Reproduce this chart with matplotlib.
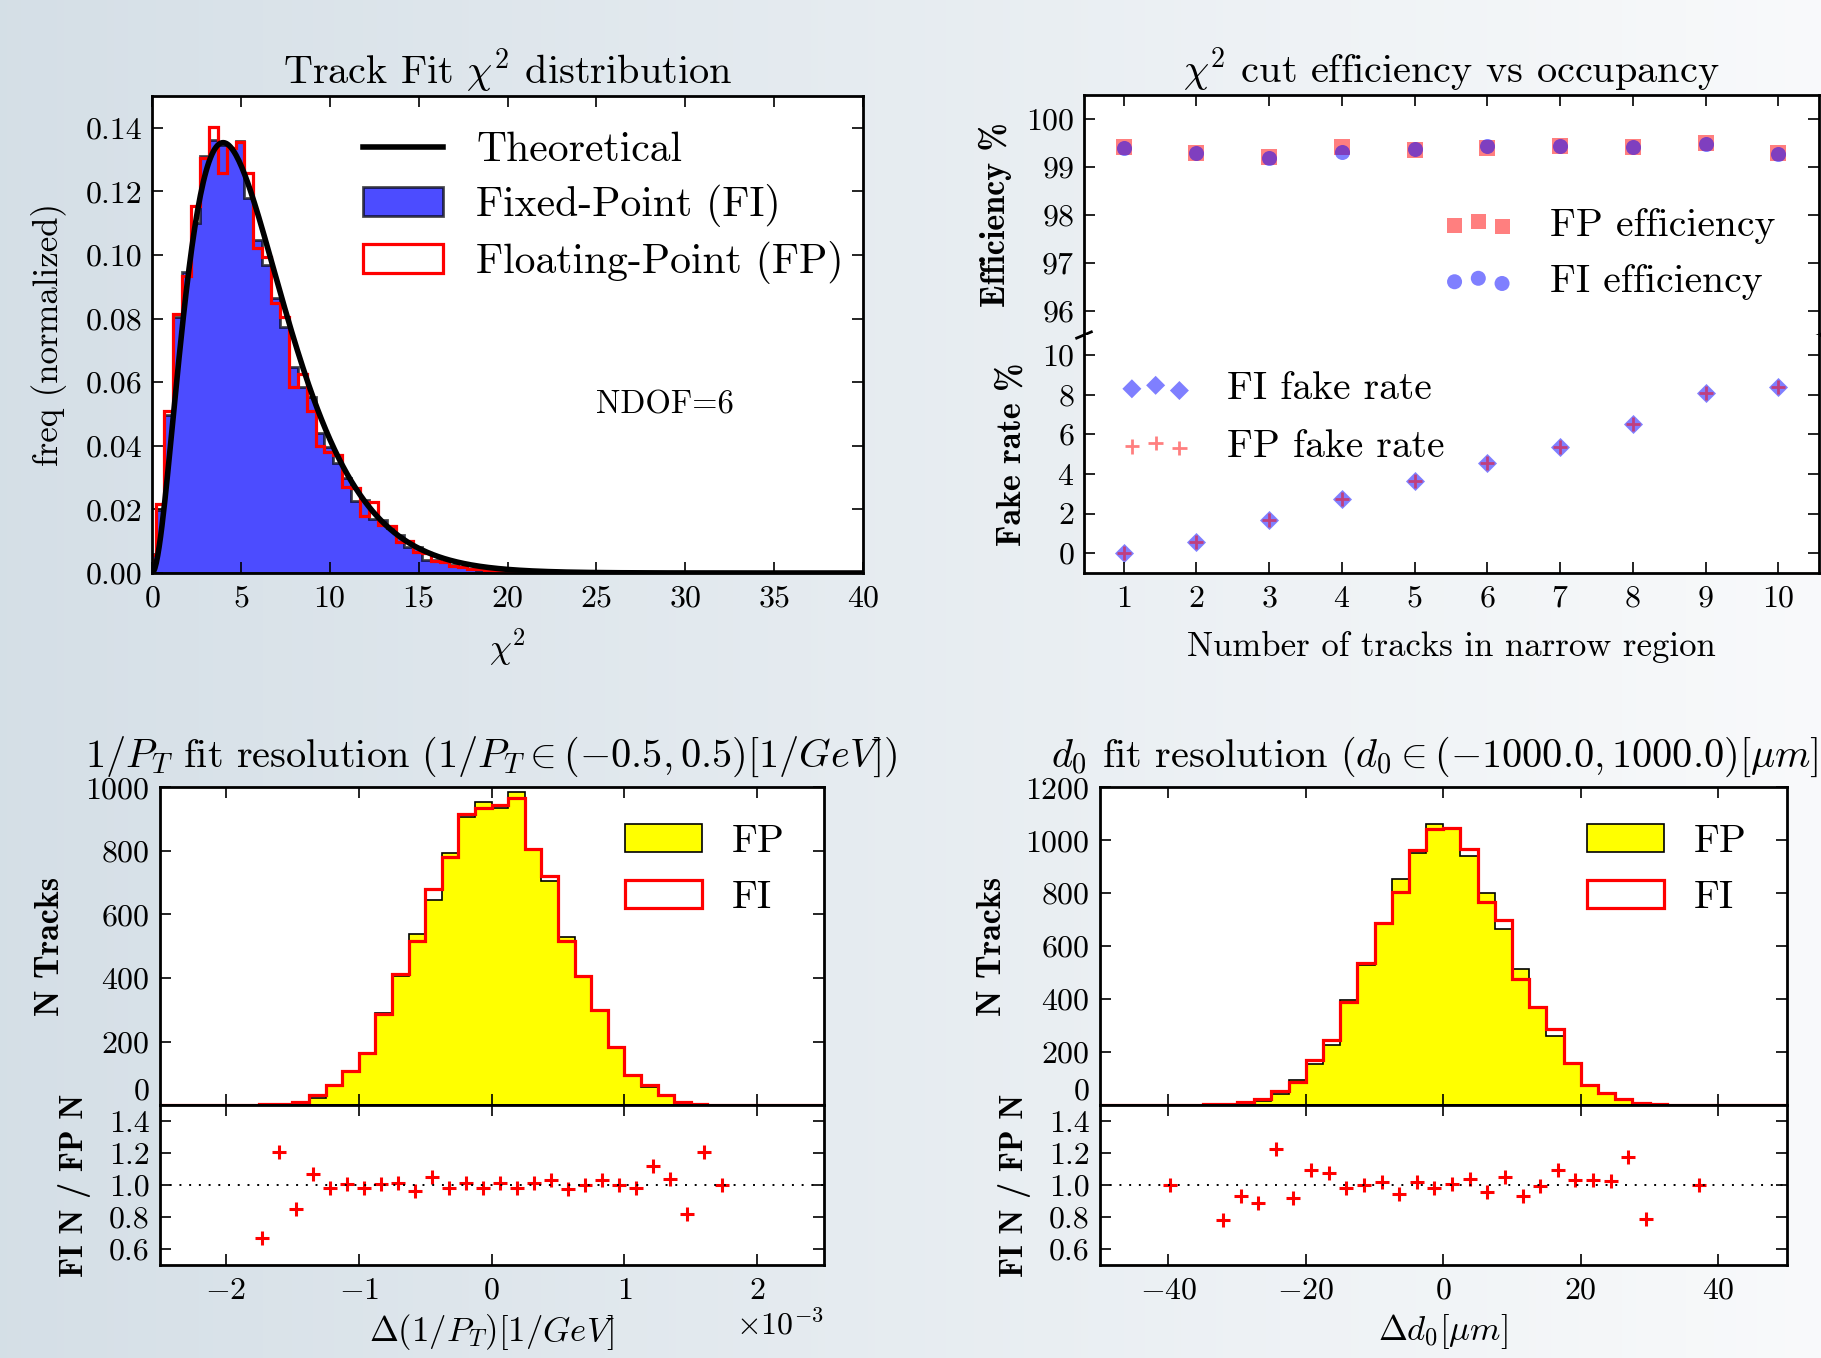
import numpy as np
import matplotlib
matplotlib.use('Agg')
import matplotlib.pyplot as plt
from matplotlib.patches import Patch
from matplotlib.lines import Line2D

plt.rcParams['font.family'] = 'cmr10'
plt.rcParams['mathtext.fontset'] = 'cm'
plt.rcParams['axes.formatter.use_mathtext'] = True

# ---------------- data ----------------
# Panel 1: chi2 histograms (normalized), bins of width 0.5 starting at 0.2
chi_edges = [0.0] + [0.2 + 0.5 * k for k in range(81)]
chi_fp = [0.0058,
          0.0218, 0.0511, 0.0815, 0.0935, 0.1155, 0.1305, 0.1402, 0.1258, 0.1335, 0.1355,
          0.1258, 0.1023, 0.0995, 0.0848, 0.0806, 0.0584, 0.0625, 0.0508, 0.0400, 0.0380,
          0.0371, 0.0272, 0.0268, 0.0180, 0.0222, 0.0150, 0.0148, 0.0098, 0.0100, 0.0065,
          0.0063, 0.0038, 0.0036, 0.0022, 0.0020, 0.0012, 0.0012, 0.0008, 0.0006, 0.0004,
          0.0003, 0.0003, 0.0002, 0.0002, 0.0001, 0.0001, 0.0001, 0.0001, 0.0, 0.0,
          0.0, 0.0, 0.0, 0.0, 0.0, 0.0, 0.0, 0.0, 0.0, 0.0,
          0.0, 0.0, 0.0, 0.0, 0.0, 0.0, 0.0, 0.0, 0.0, 0.0,
          0.0, 0.0, 0.0, 0.0, 0.0, 0.0, 0.0, 0.0, 0.0, 0.0]
chi_fi = [0.0060,
          0.0199, 0.0497, 0.0806, 0.0946, 0.1100, 0.1311, 0.1363, 0.1345, 0.1335, 0.1360,
          0.1178, 0.1047, 0.0969, 0.0864, 0.0775, 0.0649, 0.0586, 0.0555, 0.0440, 0.0395,
          0.0345, 0.0300, 0.0225, 0.0230, 0.0170, 0.0168, 0.0140, 0.0120, 0.0083, 0.0082,
          0.0041, 0.0040, 0.0035, 0.0025, 0.0018, 0.0014, 0.0010, 0.0008, 0.0006, 0.0005,
          0.0003, 0.0002, 0.0002, 0.0001, 0.0001, 0.0, 0.0, 0.0, 0.0, 0.0,
          0.0, 0.0, 0.0, 0.0, 0.0, 0.0, 0.0, 0.0, 0.0, 0.0,
          0.0, 0.0, 0.0, 0.0, 0.0, 0.0, 0.0, 0.0, 0.0, 0.0,
          0.0, 0.0, 0.0, 0.0, 0.0, 0.0, 0.0, 0.0, 0.0, 0.0]
NDOF = 6

# Panel 2: efficiency / fake rate vs number of tracks
n_tracks = [1, 2, 3, 4, 5, 6, 7, 8, 9, 10]
fp_eff = [99.42, 99.29, 99.20, 99.41, 99.36, 99.40, 99.44, 99.42, 99.49, 99.29]
fi_eff = [99.40, 99.29, 99.19, 99.31, 99.38, 99.43, 99.43, 99.41, 99.48, 99.28]
fi_fake = [0.00, 0.58, 1.67, 2.75, 3.62, 4.53, 5.33, 6.53, 8.07, 8.37]
fp_fake = [0.00, 0.58, 1.67, 2.75, 3.62, 4.53, 5.33, 6.53, 8.07, 8.37]

# Panel 3: 1/PT residuals (x in 1e-3 /GeV), bin width 0.125e-3
pt_edges = [(-2.5 + 0.125 * k) * 1e-3 for k in range(41)]
pt_fp = [0, 0, 0, 0, 1, 2, 4, 5, 8, 24, 60, 104, 163, 289, 406, 538, 645, 794, 908, 954,
         935, 984, 805, 706, 529, 406, 299, 184, 94, 58, 31, 7, 3, 1, 1, 0, 0, 0, 0, 0]
pt_fi = [0, 0, 0, 0, 1, 2, 3, 5, 10, 31, 63, 107, 163, 286, 413, 517, 680, 782, 916, 936,
         944, 965, 805, 722, 516, 406, 301, 184, 94, 65, 31, 10, 5, 2, 1, 0, 0, 0, 0, 0]
pt_ratio_x = [-1.7308, -1.6026, -1.4744, -1.3462, -1.2179, -1.0897, -0.9615, -0.8333,
              -0.7051, -0.5769, -0.4487, -0.3205, -0.1923, -0.0641, 0.0641, 0.1923,
              0.3205, 0.4487, 0.5769, 0.7051, 0.8333, 0.9615, 1.0897, 1.2179, 1.3462,
              1.4744, 1.6026, 1.7308]
pt_ratio = [0.668, 1.204, 0.847, 1.067, 0.983, 1.004, 0.983, 1.008, 1.015, 0.962, 1.052,
            0.983, 1.015, 0.983, 1.015, 0.983, 1.010, 1.029, 0.977, 0.998, 1.029, 1.000,
            0.983, 1.120, 1.036, 0.815, 1.204, 1.000]

# Panel 4: d0 residuals (um), bin width 2.5
d0_edges = [-50 + 2.5 * k for k in range(41)]
d0_fp = [0, 0, 0, 1, 1, 2, 3, 5, 9, 16, 44, 94, 155, 227, 397, 531, 683, 853, 951, 1060,
         1042, 941, 802, 665, 514, 369, 261, 160, 78, 44, 19, 9, 4, 2, 1, 1, 0, 0, 0, 0]
d0_fi = [0, 0, 0, 1, 1, 2, 3, 6, 11, 23, 54, 88, 170, 246, 390, 535, 689, 804, 963, 1042,
         1048, 968, 768, 699, 476, 369, 286, 160, 78, 47, 25, 10, 5, 2, 1, 1, 0, 0, 0, 0]
d0_ratio_x = [-39.74, -32.05, -29.49, -26.92, -24.36, -21.79, -19.23, -16.67, -14.10,
              -11.54, -8.97, -6.41, -3.85, -1.28, 1.28, 3.85, 6.41, 8.97, 11.54, 14.10,
              16.67, 19.23, 21.79, 24.36, 26.92, 29.49, 37.18]
d0_ratio = [1.000, 0.780, 0.931, 0.885, 1.225, 0.920, 1.092, 1.073, 0.983, 1.000, 1.019,
            0.945, 1.019, 0.983, 1.008, 1.034, 0.958, 1.052, 0.931, 0.990, 1.092, 1.029,
            1.029, 1.025, 1.178, 0.788, 1.000]

# ---------------- figure ----------------
W, H = 1821, 1358
fig = plt.figure(figsize=(W / 100, H / 100), dpi=100)

bg = fig.add_axes([0, 0, 1, 1], zorder=-10)
t = np.linspace(0, 1, 256)[:, None]
c_left = np.array([0.835, 0.875, 0.905])
c_right = np.array([0.975, 0.98, 0.985])
grad = c_left * (1 - t) + c_right * t
bg.imshow(grad[None, :, :], aspect='auto', extent=[0, 1, 0, 1])
bg.set_axis_off()


def px_axes(l, t_, r, b):
    return fig.add_axes([l / W, 1 - b / H, (r - l) / W, (b - t_) / H])


TICK_FS = 23
LAB_FS = 25
BOLD_FS = 24.5
RATIO_FS = 23
TITLE_FS = 29


def style(ax):
    ax.tick_params(which='both', direction='in', length=8, width=1.2,
                   top=True, right=True, labelsize=TICK_FS)
    ax.tick_params(axis='x', pad=9)
    ax.tick_params(axis='y', pad=7)
    for sp in ax.spines.values():
        sp.set_linewidth(2)


def centers(edges):
    e = np.asarray(edges, dtype=float)
    return 0.5 * (e[1:] + e[:-1])


# ---- Panel 1 ----
ax1 = px_axes(152, 96, 863, 573)
style(ax1)
ax1.hist(centers(chi_edges), bins=chi_edges, weights=chi_fi, histtype='stepfilled',
         facecolor='blue', edgecolor='black', alpha=0.7, linewidth=2)
ax1.hist(centers(chi_edges), bins=chi_edges, weights=chi_fp, histtype='step',
         color='red', linewidth=2.3)
xs = np.linspace(0, 40, 500)
pdf = xs ** (NDOF / 2 - 1) * np.exp(-xs / 2) / (2 ** (NDOF / 2) * 2.0)  # Gamma(3)=2
ax1.plot(xs, pdf, color='black', linewidth=4)
ax1.set_xlim(0, 40)
ax1.set_ylim(0, 0.15)
ax1.set_xticks(range(0, 41, 5))
ax1.set_yticks([0.0, 0.02, 0.04, 0.06, 0.08, 0.10, 0.12, 0.14])
ax1.set_yticklabels(['0.00', '0.02', '0.04', '0.06', '0.08', '0.10', '0.12', '0.14'])
ax1.text(25, 0.05, 'NDOF=6', fontsize=23.5)
ax1.set_title(r'Track Fit $\chi^2$ distribution', fontsize=TITLE_FS, pad=8.6)
ax1.set_xlabel(r'$\chi^2$', fontsize=LAB_FS)
ax1.xaxis.set_label_coords(0.5, -0.113)
ax1.xaxis.label.set_va('top')
ax1.set_ylabel('freq (normalized)', fontsize=LAB_FS)
ax1.yaxis.set_label_coords(-0.1195, 0.5)
h1 = [Line2D([], [], color='black', linewidth=4),
      Patch(facecolor='blue', edgecolor='black', alpha=0.7, linewidth=2),
      Patch(facecolor='white', edgecolor='red', linewidth=2.3)]
ax1.legend(h1, ['Theoretical', 'Fixed-Point (FI)', 'Floating-Point (FP)'],
           loc='center left', bbox_to_anchor=(0.2968, 0.765), frameon=False,
           fontsize=30, handlelength=1.92, handleheight=0.7, handletextpad=0.8,
           labelspacing=0.35, borderpad=0, borderaxespad=0)

# ---- Panel 2 (broken axis) ----
ax_up = px_axes(1084, 95, 1819, 335)
ax_lo = px_axes(1084, 335, 1819, 573)
for a in (ax_up, ax_lo):
    style(a)
    a.set_xlim(0.455, 10.56)
    a.set_xticks(n_tracks)
ax_up.spines['bottom'].set_visible(False)
ax_lo.spines['top'].set_visible(False)
ax_up.tick_params(axis='x', bottom=False, labelbottom=False, top=True)
ax_lo.tick_params(axis='x', top=False)

ax_up.scatter(n_tracks, fp_eff, marker='s', s=117, color='red', alpha=0.5,
              linewidths=0, label='FP efficiency')
ax_up.scatter(n_tracks, fi_eff, marker='o', s=117, color='blue', alpha=0.5,
              linewidths=0, label='FI efficiency')
ax_up.set_ylim(95.5, 100.5)
ax_up.set_yticks([96, 97, 98, 99, 100])

ax_lo.scatter(n_tracks, fi_fake, marker='D', s=94, color='blue', alpha=0.5,
              linewidths=0, label='FI fake rate')
ax_lo.scatter(n_tracks, fp_fake, marker='+', s=110, color='red', alpha=0.5,
              linewidths=2, label='FP fake rate')
ax_lo.set_ylim(-1, 11)
ax_lo.set_yticks([0, 2, 4, 6, 8, 10])

d = 0.01
kw = dict(color='black', clip_on=False, linewidth=2)
ax_up.plot((-d, +d), (-d * 1.3, +d * 1.3), transform=ax_up.transAxes, **kw)
ax_up.plot((1 - d, 1 + d), (-d * 1.3, +d * 1.3), transform=ax_up.transAxes, **kw)

ax_up.legend(loc='center left', bbox_to_anchor=(0.488, 0.338), frameon=False,
             scatterpoints=3, fontsize=28.5, handlelength=1.8, handletextpad=0.9,
             labelspacing=0.52, borderpad=0, borderaxespad=0)
ax_lo.legend(loc='center left', bbox_to_anchor=(0.049, 0.651), frameon=False,
             scatterpoints=3, fontsize=28.5, handlelength=1.8, handletextpad=0.9,
             labelspacing=0.55, borderpad=0, borderaxespad=0)

ax_up.set_title(r'$\chi^2$ cut efficiency vs occupancy', fontsize=TITLE_FS, pad=8.6)
ax_up.set_ylabel('Efficiency %', fontsize=BOLD_FS, family='cmb10')
ax_up.yaxis.set_label_coords(-0.098, 0.5)
ax_lo.set_ylabel('Fake rate %', fontsize=BOLD_FS, family='cmb10')
ax_lo.yaxis.set_label_coords(-0.077, 0.5)
ax_lo.set_xlabel('Number of tracks in narrow region', fontsize=LAB_FS)
ax_lo.xaxis.set_label_coords(0.5, -0.244)
ax_lo.xaxis.label.set_va('top')


# ---- Panels 3 & 4 ----
def resolution_panel(left, right, edges, fp, fi, rx, rv, xlim, xticks, ymax, yticks,
                     title, xlabel, leg_x, lab_main, lab_ratio, scale=1.0):
    axm = px_axes(left, 787.3, right, 1105.2)
    axr = px_axes(left, 1105.2, right, 1264.6)
    style(axm)
    style(axr)
    c = centers(edges)
    axm.hist(c, bins=edges, weights=fp, histtype='stepfilled', facecolor='yellow',
             edgecolor='black', linewidth=1.2)
    axm.hist(c, bins=edges, weights=fi, histtype='step', color='red', linewidth=2.3)
    axm.set_xlim(*xlim)
    axm.set_ylim(0, ymax)
    axm.set_xticks(xticks)
    axm.tick_params(axis='x', labelbottom=False)
    axm.set_yticks(yticks)
    axm.yaxis.get_major_ticks()[0].label1.set_verticalalignment('bottom')
    hh = [Patch(facecolor='yellow', edgecolor='black', linewidth=1.2),
          Patch(facecolor='white', edgecolor='red', linewidth=2.3)]
    axm.legend(hh, ['FP', 'FI'], loc='center left', bbox_to_anchor=(leg_x, 0.740),
               frameon=False, fontsize=28.5, handlelength=1.95, handleheight=0.7,
               handletextpad=0.75, labelspacing=0.5, borderpad=0, borderaxespad=0)
    axm.set_title(title, fontsize=TITLE_FS, pad=14.8)
    axm.set_ylabel('N Tracks', fontsize=BOLD_FS, family='cmb10')
    axm.yaxis.set_label_coords(lab_main, 0.5)

    axr.plot(np.asarray(rx) * scale, rv, linestyle='none', marker='+', color='red',
             markersize=9.5, markeredgewidth=2.2)
    axr.axhline(1.0, color='black', linestyle=(0, (1, 4)), linewidth=1.4)
    axr.set_xlim(*xlim)
    axr.set_xticks(xticks)
    axr.set_ylim(0.5, 1.5)
    axr.set_yticks([0.6, 0.8, 1.0, 1.2, 1.4])
    axr.set_yticklabels(['0.6', '0.8', '1.0', '1.2', '1.4'])
    axr.set_ylabel('FI N / FP N', fontsize=RATIO_FS, family='cmb10')
    axr.yaxis.set_label_coords(lab_ratio, 0.5)
    axr.set_xlabel(xlabel, fontsize=LAB_FS)
    axr.xaxis.set_label_coords(0.5, -0.297)
    axr.xaxis.label.set_va('top')
    return axm, axr


axm3, axr3 = resolution_panel(
    159.5, 823.7, pt_edges, pt_fp, pt_fi, pt_ratio_x, pt_ratio,
    (-2.5e-3, 2.5e-3), [-2e-3, -1e-3, 0, 1e-3, 2e-3], 1000, [0, 200, 400, 600, 800, 1000],
    r'$1/P_T$ fit resolution $(1/P_T \in (-0.5, 0.5)[1/GeV])$',
    r'$\Delta(1/P_T)[1/GeV]$', 0.7004, -0.1408, -0.1037, scale=1e-3)
axr3.ticklabel_format(axis='x', style='sci', scilimits=(0, 0), useMathText=True)
axr3.xaxis.get_offset_text().set_fontsize(TICK_FS)

axm4, axr4 = resolution_panel(
    1099.5, 1787, d0_edges, d0_fp, d0_fi, d0_ratio_x, d0_ratio,
    (-50, 50), [-40, -20, 0, 20, 40], 1200, [0, 200, 400, 600, 800, 1000, 1200],
    r'$d_0$ fit resolution $(d_0 \in (-1000.0, 1000.0)[\mu m])$',
    r'$\Delta d_0[\mu m]$', 0.709, -0.1331, -0.0996)

fig.savefig('out.png', dpi=100)
